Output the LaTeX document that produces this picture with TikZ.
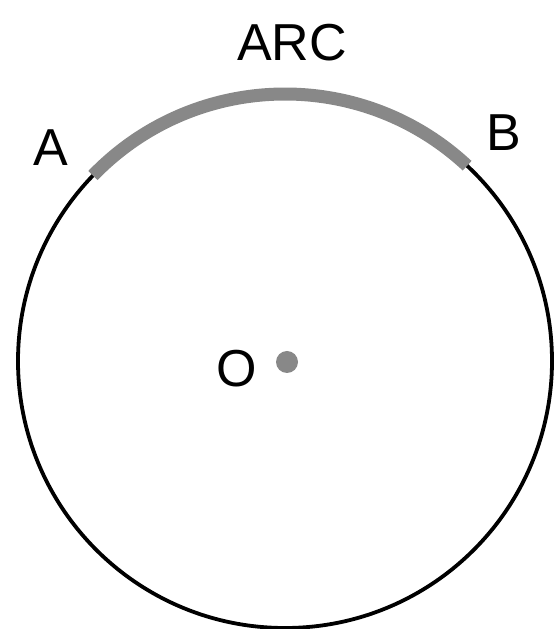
\documentclass[tikz,border=0pt]{standalone}
\usepackage{fontspec}
\setmainfont{Liberation Sans}
\definecolor{arcgray}{HTML}{888888}

\begin{document}
\begin{tikzpicture}[x=1pt, y=1pt,
  every node/.style={font=\fontsize{52}{60}\selectfont, inner sep=0pt},
  rim/.style={draw=black, line width=3.8pt},
  arcband/.style={draw=arcgray, line width=13pt},
]

% Frame
\useasboundingbox (0,0) rectangle (554,629);

% Circle and centre
\coordinate (O) at (285,268);
\draw[rim] (O) circle[radius=267];
\fill[arcgray] ([shift={(2,-1)}]O) circle[radius=11];

% Highlighted arc from A to B
\draw[arcband] ([shift={(47:267)}]O) arc[start angle=47, end angle=136, radius=267];

% Labels
\node (lblO) at (237,260) {O};
\node (lblA) at (51,481) {A};
\node (lblB) at (504,496) {B};
\node (lblArc) at (292,586) {ARC};

\end{tikzpicture}
\end{document}
